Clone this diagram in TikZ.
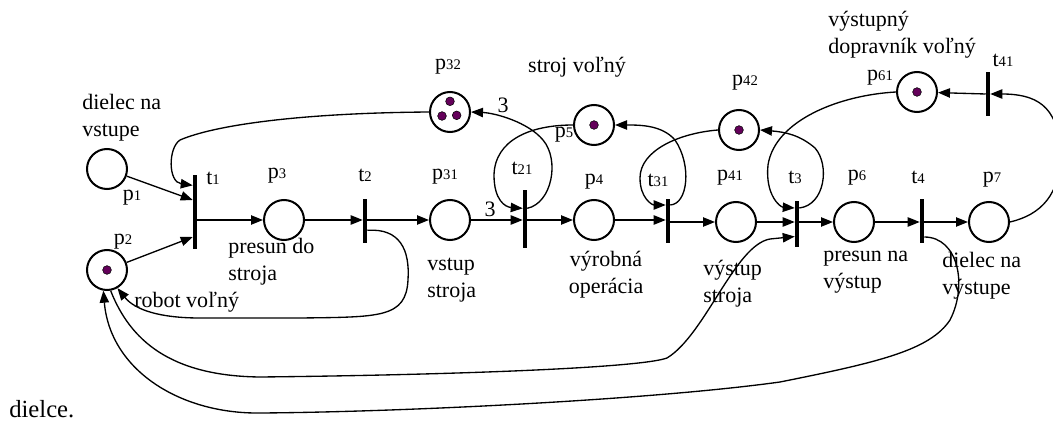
\documentclass[tikz,border=0pt]{standalone}
\usepackage{fontspec}
\setmainfont{Liberation Serif}
\usepackage{xcolor}
\usepackage{tikz}
\usetikzlibrary{arrows.meta}

\definecolor{tokencol}{RGB}{100,0,90}
\newcommand{\pidx}[1]{{\fontsize{11}{11}\selectfont #1}}

\begin{document}
\begin{tikzpicture}[
    x=0.75pt, y=-0.75pt,
    font=\fontsize{16.5}{20}\selectfont,
    place/.style={circle, draw, line width=1.5pt, minimum size=30pt, inner sep=0pt},
    trans/.style={rectangle, fill=black, minimum width=3pt, minimum height=33pt, inner sep=0pt},
    token/.style={circle, draw=black, line width=0.4pt, fill=tokencol, minimum size=6.5pt, inner sep=0pt},
    lab/.style={inner sep=0pt},
    txt/.style={inner sep=0pt, align=left, anchor=west},
    arc/.style={-{Triangle[length=9pt, width=7pt]}, line width=1pt},
]
\useasboundingbox (0,0) rectangle (1053,424);

% Places
\node[place] (p1) at (107,169) {};
\node[place] (p2) at (107,270) {};
\node[place] (p3) at (284,220) {};
\node[place] (p31) at (450,220) {};
\node[place] (p4) at (594,220) {};
\node[place] (p41) at (736,222) {};
\node[place] (p6) at (854,222) {};
\node[place] (p7) at (989,222) {};
\node[place] (p32) at (450,112) {};
\node[place] (p5) at (594,125) {};
\node[place] (p42) at (739,130) {};
\node[place] (p61) at (917,92) {};

% Tokens
\node[token] (k2) at (p2) {};
\node[token] (k5) at (p5) {};
\node[token] (k42) at (p42) {};
\node[token] (k61) at (p61) {};
\node[token] (k32a) at ([yshift=8pt]p32.center) {};
\node[token] (k32b) at ([xshift=-6pt, yshift=-3pt]p32.center) {};
\node[token] (k32c) at ([xshift=5pt, yshift=-2.5pt]p32.center) {};

% Transitions
\node[trans, minimum height=55pt] (t1) at (195,212) {};
\node[trans] (t2) at (365,221) {};
\node[trans, minimum height=43.5pt] (t21) at (525,219) {};
\node[trans] (t31) at (668,221) {};
\node[trans, minimum height=34pt] (t3) at (797,224) {};
\node[trans] (t4) at (922,221) {};
\node[trans] (t41) at (988,94) {};

% Names of places and transitions
\node[lab] (lp1) at (132,198) {p\pidx{1}};
\node[lab] (lp2) at (123,242) {p\pidx{2}};
\node[lab] (lt1) at (213,178) {t\pidx{1}};
\node[lab] (lp3) at (277,176) {p\pidx{3}};
\node[lab] (lt2) at (365,175) {t\pidx{2}};
\node[lab] (lp31) at (445,177) {p\pidx{31}};
\node[lab] (lt21) at (522,168) {t\pidx{21}};
\node[lab] (lp4) at (594,182) {p\pidx{4}};
\node[lab] (lt31) at (658,180) {t\pidx{31}};
\node[lab] (lp41) at (730,178) {p\pidx{41}};
\node[lab] (lt3) at (795,177) {t\pidx{3}};
\node[lab] (lp6) at (857,178) {p\pidx{6}};
\node[lab] (lt4) at (918,177) {t\pidx{4}};
\node[lab] (lp7) at (992,180) {p\pidx{7}};
\node[lab] (lp32) at (448,67) {p\pidx{32}};
\node[lab] (lp5) at (564,135) {p\pidx{5}};
\node[lab] (lp42) at (745,83) {p\pidx{42}};
\node[lab] (lp61) at (880,78) {p\pidx{61}};
\node[lab] (lt41) at (1003,60) {t\pidx{41}};

% Descriptions
\node[txt] (din) at (82,118) {dielec na\\vstupe};
\node[txt] (presun) at (228,262) {presun do\\stroja};
\node[txt] (vstup) at (427,280) {vstup\\stroja};
\node[lab, align=center] (vyrob) at (606,275) {výrobná\\operácia};
\node[txt] (vystup) at (703,284) {výstup\\stroja};
\node[txt] (presvy) at (823,272) {presun na\\výstup};
\node[txt] (dout) at (942,276) {dielec na\\výstupe};
\node[txt] (dopr) at (828,35) {výstupný\\dopravník voľný};
\node[lab] (stroj) at (577,67) {stroj voľný};
\node[txt] (robot) at (134,302) {robot voľný};
\node[lab] (w1) at (490,209) {3};
\node[lab] (w2) at (503,105) {3};
\node[txt, font=\fontsize{18.5}{22}\selectfont] (dielce) at (9,409) {dielce.};

% Arcs along the main row
\draw[arc] (p1) -- ([yshift=9pt]t1.west);
\draw[arc] (p2) -- ([yshift=-18.75pt]t1.west);
\draw[arc] (t1.east |- p3) -- (p3);
\draw[arc] (p3) -- (t2.west |- p3);
\draw[arc] (t2.east |- p31) -- (p31);
\draw[arc] (p31) -- (t21.west |- p31);
\draw[arc] (t21.east |- p4) -- (p4);
\draw[arc] (p4) -- (t31.west |- p4);
\draw[arc] (t31.east |- p41) -- (p41);
\draw[arc] (p41) -- (t3.west |- p41);
\draw[arc] (t3.east |- p6) -- (p6);
\draw[arc] (p6) -- (t4.west |- p6);
\draw[arc] (t4.east |- p7) -- (p7);
\draw[arc] (t41.west) -- (p61);

% Loops through the resource places
\draw[arc] (p32.west) .. controls (300,113) and (215,125) .. (180,140)
    .. controls (168,148) and (168,182) .. ([yshift=20pt]t1.west);
\draw[arc] (p5.west) .. controls (530,125) and (495,140) .. (494,175)
    .. controls (494,200) and (505,207) .. ([yshift=8pt]t21.west);
\draw[arc] ([yshift=8pt]t21.east) .. controls (552,203) and (560,160) .. (543,140)
    .. controls (528,122) and (495,113) .. (p32.east);
\draw[arc] (p42.west) .. controls (680,133) and (640,150) .. (640,178)
    .. controls (640,198) and (652,205) .. ([yshift=12pt]t31.west);
\draw[arc] ([yshift=12pt]t31.east) .. controls (688,204) and (692,165) .. (675,140)
    .. controls (662,125) and (640,125) .. (p5.east);
\draw[arc] (p61.west) .. controls (840,95) and (775,120) .. (768,165)
    .. controls (765,195) and (780,207) .. ([yshift=12pt]t3.west);
\draw[arc] ([yshift=12pt]t3.east) .. controls (825,205) and (830,165) .. (815,148)
    .. controls (800,135) and (785,132) .. (p42.east);
\draw[arc] (p7.east) .. controls (1040,215) and (1062,195) .. (1060,150)
    .. controls (1058,105) and (1035,94) .. (t41.east);

% Robot returns
\draw[arc] ([yshift=-7pt]t2.east) .. controls (400,228) and (410,250) .. (408,280)
    .. controls (406,318) and (380,317) .. (300,318) -- (200,318)
    .. controls (160,318) and (135,310) .. (p2.-60);
\draw[arc] (p2.-80) .. controls (130,340) and (170,376) .. (260,377)
    .. controls (450,375) and (640,368) .. (667,358)
    .. controls (705,335) and (735,245) .. (770,239) -- ([yshift=-9.4pt]t3.west);
\draw[arc] ([yshift=-12pt]t4.east) .. controls (958,237) and (968,285) .. (950,320)
    .. controls (930,350) and (880,362) .. (780,382)
    .. controls (650,400) and (400,412) .. (260,413)
    .. controls (180,414) and (110,370) .. (p2.-100);

\end{tikzpicture}
\end{document}
